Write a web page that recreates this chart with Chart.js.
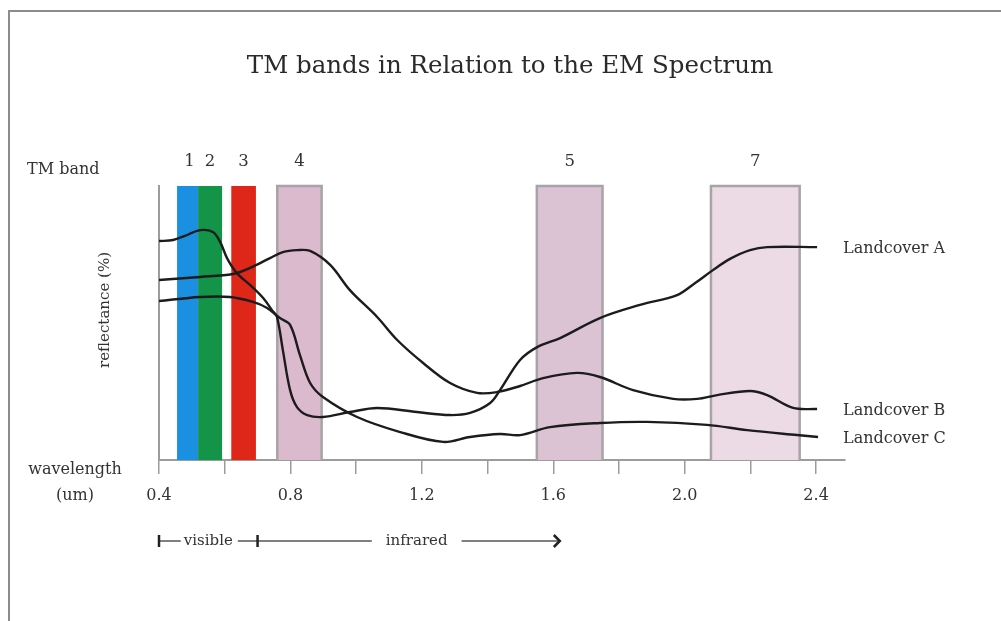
<!DOCTYPE html>
<html><head><meta charset="utf-8">
<script src="https://cdn.jsdelivr.net/npm/chart.js@4.4.0/dist/chart.umd.min.js"></script>
<style>html,body{margin:0;padding:0;background:#fff;overflow:hidden}canvas{display:block}</style>
</head><body>
<canvas id="c" width="1001" height="621"></canvas>
<script>
// ---- data ----
const titleText = 'TM bands in Relation to the EM Spectrum';
const bandNames = ['1', '2', '3', '4', '5', '7'];
const bandStart = [0.455, 0.519, 0.62, 0.76, 1.55, 2.08];
const bandEnd   = [0.519, 0.592, 0.695, 0.895, 1.75, 2.35];
const bandColors = ['#1b8fe0', '#139448', '#df2719', '#dbbacd', '#dcc3d3', '#ecdbe4'];
const bandEdges  = [null, null, null, '#a8a3a6', '#a8a3a6', '#a8a3a6'];
const tickValues = [0.4, 0.6, 0.8, 1.0, 1.2, 1.4, 1.6, 1.8, 2.0, 2.2, 2.4];
const tickLabels = ['0.4', '', '0.8', '', '1.2', '', '1.6', '', '2.0', '', '2.4'];
const seriesNames = ['Landcover A', 'Landcover B', 'Landcover C'];
const aX = [0.40, 0.443, 0.479, 0.525, 0.564, 0.586, 0.607, 0.637, 0.677, 0.717, 0.744, 0.759, 0.777, 0.799, 0.820, 0.851, 0.899, 0.981, 1.064, 1.185, 1.286, 1.347, 1.408, 1.438, 1.499, 1.551, 1.621, 1.742, 1.864, 1.977, 2.032, 2.086, 2.138, 2.199, 2.251, 2.403];
const aY = [79.9, 80.3, 81.8, 83.9, 83.2, 79.6, 73.7, 68.2, 63.9, 59.1, 54.7, 52.2, 40.1, 25.5, 19.3, 16.4, 15.7, 17.5, 19.0, 17.5, 16.4, 17.2, 20.8, 25.5, 36.5, 41.2, 44.5, 51.8, 56.6, 60.2, 64.6, 69.3, 73.4, 76.6, 77.7, 77.7];
const bX = [0.40, 0.525, 0.625, 0.677, 0.738, 0.777, 0.820, 0.860, 0.921, 0.981, 1.064, 1.125, 1.204, 1.286, 1.368, 1.429, 1.499, 1.569, 1.672, 1.742, 1.843, 1.965, 2.038, 2.099, 2.199, 2.251, 2.330, 2.403];
const bY = [65.7, 66.8, 67.9, 70.1, 73.7, 75.9, 76.6, 76.3, 71.2, 62.0, 52.2, 43.8, 35.4, 28.1, 24.5, 24.8, 27.0, 29.9, 31.8, 30.3, 25.5, 22.3, 22.3, 23.7, 25.2, 23.7, 19.0, 18.6];
const cX = [0.40, 0.525, 0.616, 0.686, 0.729, 0.768, 0.799, 0.829, 0.860, 0.899, 1.003, 1.134, 1.265, 1.347, 1.438, 1.499, 1.590, 1.742, 1.886, 2.068, 2.190, 2.342, 2.406];
const cY = [58.0, 59.5, 59.5, 57.7, 55.5, 51.8, 49.3, 38.3, 28.1, 23.0, 15.7, 10.2, 6.6, 8.4, 9.5, 9.1, 12.0, 13.5, 13.9, 12.8, 10.9, 9.1, 8.4];
const rangeNames = ['visible', 'infrared'];
const rangeStart = [0.4, 0.7];
const rangeEnd   = [0.7, 1.62];

const seriesX = [aX, bX, cX];
const seriesY = [aY, bY, cY];
const SERIF = '"DejaVu Serif", "Liberation Serif", serif';
const TXT = '#333';
const AXIS = '#9c9c9c';

const decor = {
  id: 'decor',
  beforeDraw(chart) {
    const c = chart.ctx;
    c.save();
    c.fillStyle = '#fff';
    c.fillRect(0, 0, chart.width, chart.height);
    // page frame
    c.strokeStyle = '#8c8c8c';
    c.lineWidth = 2;
    c.beginPath();
    c.moveTo(9, chart.height); c.lineTo(9, 11); c.lineTo(chart.width, 11);
    c.stroke();
    // title
    c.fillStyle = '#2a2a2a';
    c.font = '24.5px ' + SERIF;
    c.textAlign = 'center';
    c.textBaseline = 'middle';
    c.fillText(titleText, 510, 67);
    c.restore();
  },
  beforeDatasetsDraw(chart) {
    const c = chart.ctx, xs = chart.scales.x, ys = chart.scales.y;
    const top = ys.getPixelForValue(100), bot = ys.getPixelForValue(0);
    c.save();
    bandNames.forEach((n, i) => {
      const x0 = xs.getPixelForValue(bandStart[i]);
      const x1 = xs.getPixelForValue(bandEnd[i]);
      c.fillStyle = bandColors[i];
      c.fillRect(x0, top, x1 - x0, bot - top);
      if (bandEdges[i]) {
        c.strokeStyle = bandEdges[i];
        c.lineWidth = 2.5;
        c.beginPath();
        c.moveTo(x0, bot); c.lineTo(x0, top); c.lineTo(x1, top); c.lineTo(x1, bot);
        c.stroke();
      }
      c.fillStyle = TXT;
      c.font = '16.5px ' + SERIF;
      c.textAlign = 'center';
      c.textBaseline = 'middle';
      c.fillText(n, (x0 + x1) / 2 + (i === 0 ? 2 : 0), top - 24);
    });
    c.restore();
  },
  afterDraw(chart) {
    const c = chart.ctx, xs = chart.scales.x, ys = chart.scales.y;
    c.save();
    c.fillStyle = TXT;
    c.textBaseline = 'middle';
    c.font = '16px ' + SERIF;
    c.textAlign = 'left';
    c.fillText('TM band', 27, 170);
    c.textAlign = 'center';
    c.fillText('wavelength', 75, 470);
    c.fillText('(um)', 75, 496);
    // y title
    c.save();
    c.translate(105, 310);
    c.rotate(-Math.PI / 2);
    c.font = '15px ' + SERIF;
    c.fillText('reflectance (%)', 0, 0);
    c.restore();
    // series labels
    c.font = '16px ' + SERIF;
    c.textAlign = 'left';
    seriesNames.forEach((n, i) => {
      const yv = seriesY[i][seriesY[i].length - 1];
      c.fillText(n, 843, ys.getPixelForValue(yv) + 2);
    });
    // visible / infrared ranges
    const ry = 541;
    c.font = '15px ' + SERIF;
    c.strokeStyle = '#555';
    c.lineWidth = 1.5;
    rangeNames.forEach((n, i) => {
      const x0 = xs.getPixelForValue(rangeStart[i]);
      const x1 = xs.getPixelForValue(rangeEnd[i]);
      const mid = (x0 + x1) / 2 + (i === 1 ? 8 : 0);
      const w = c.measureText(n).width;
      c.textAlign = 'center';
      c.fillText(n, mid, ry);
      c.beginPath();
      c.moveTo(x0, ry); c.lineTo(mid - w / 2 - (i === 0 ? 3 : 14), ry);
      c.moveTo(mid + w / 2 + (i === 0 ? 5 : 14), ry); c.lineTo(x1, ry);
      c.stroke();
      c.lineWidth = 2.5;
      c.strokeStyle = '#222';
      c.beginPath();
      c.moveTo(x0, ry - 6); c.lineTo(x0, ry + 6);
      c.stroke();
      if (i === rangeNames.length - 1) {
        c.beginPath();
        c.moveTo(x1 - 6, ry - 6); c.lineTo(x1, ry); c.lineTo(x1 - 6, ry + 6);
        c.stroke();
      }
      c.lineWidth = 1.5;
      c.strokeStyle = '#555';
    });
    c.restore();
  }
};

new Chart(document.getElementById('c').getContext('2d'), {
  type: 'line',
  data: {
    datasets: seriesNames.map((n, i) => ({
      label: n,
      data: seriesX[i].map((x, j) => ({ x: x, y: seriesY[i][j] })),
      borderColor: '#1c1c1c',
      borderWidth: 2.4,
      pointRadius: 0,
      fill: false,
      tension: 0.35
    }))
  },
  options: {
    responsive: false,
    animation: false,
    devicePixelRatio: 1,
    layout: { padding: { left: 159, top: 186, right: 156, bottom: 101 } },
    plugins: { legend: { display: false }, title: { display: false }, tooltip: { enabled: false } },
    scales: {
      x: {
        type: 'linear', min: 0.4, max: 2.488,
        afterBuildTicks: s => { s.ticks = tickValues.map(v => ({ value: v })); },
        afterFit: s => { s.height = 60; },
        grid: { display: true, drawOnChartArea: false, drawTicks: true, tickLength: 14, color: AXIS, lineWidth: 1.5 },
        border: { display: true, color: AXIS, width: 2 },
        ticks: {
          autoSkip: false, maxRotation: 0, padding: 12, color: TXT,
          font: { family: SERIF, size: 16 },
          callback: (v, i) => tickLabels[i]
        }
      },
      y: {
        min: 0, max: 100,
        afterFit: s => { s.width = 0; },
        grid: { display: false },
        ticks: { display: false },
        border: { display: true, color: AXIS, width: 2 }
      }
    }
  },
  plugins: [decor]
});
</script>
</body></html>
